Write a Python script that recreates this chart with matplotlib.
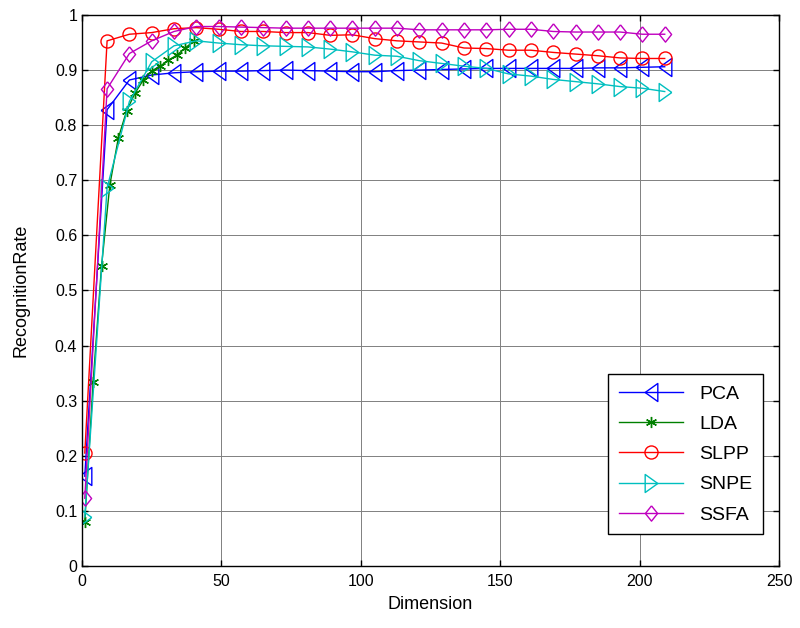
import matplotlib
matplotlib.use('Agg')
import matplotlib.pyplot as plt

plt.rcParams['font.family'] = ['Liberation Sans', 'DejaVu Sans']

# dimensions used by most methods (1:8:209) and by LDA (1:3:40)
dims = list(range(1, 210, 8))
dims_lda = list(range(1, 41, 3))

pca = [0.163, 0.828, 0.882, 0.891, 0.895, 0.897, 0.898, 0.898, 0.899, 0.900, 0.899, 0.898,
       0.897, 0.897, 0.899, 0.900, 0.901, 0.902, 0.903, 0.903, 0.903, 0.903, 0.903, 0.904,
       0.904, 0.905, 0.906]
lda = [0.080, 0.334, 0.544, 0.692, 0.776, 0.826, 0.858, 0.882, 0.898, 0.907, 0.918, 0.927,
       0.940, 0.952]
slpp = [0.205, 0.953, 0.965, 0.968, 0.975, 0.977, 0.974, 0.970, 0.970, 0.968, 0.968, 0.963,
        0.964, 0.957, 0.953, 0.951, 0.949, 0.940, 0.939, 0.936, 0.936, 0.932, 0.929, 0.926,
        0.922, 0.921, 0.921]
snpe = [0.089, 0.686, 0.843, 0.915, 0.944, 0.953, 0.949, 0.946, 0.944, 0.943, 0.942, 0.938,
        0.933, 0.927, 0.925, 0.917, 0.912, 0.907, 0.903, 0.893, 0.889, 0.883, 0.879, 0.875,
        0.870, 0.867, 0.861]
ssfa = [0.123, 0.866, 0.930, 0.953, 0.970, 0.979, 0.979, 0.978, 0.977, 0.976, 0.976, 0.976,
        0.976, 0.976, 0.976, 0.973, 0.973, 0.973, 0.973, 0.974, 0.974, 0.970, 0.969, 0.969,
        0.969, 0.965, 0.965]

# MATLAB-like taller triangles and diamonds
tri_left = [(-0.7, 0), (0.7, -1), (0.7, 1), (-0.7, 0)]
tri_right = [(0.7, 0), (-0.7, -1), (-0.7, 1), (0.7, 0)]
diamond = [(0, 1), (0.8, 0), (0, -1), (-0.8, 0), (0, 1)]

fig = plt.figure(figsize=(8, 6.28), dpi=100)
ax = fig.add_axes([0.1025, 0.0987, 0.8713, 0.8775])

ax.plot(dims, pca, '-', color=(0, 0, 1), lw=1, marker=tri_left, ms=13, mfc='none', mew=1, label='PCA')
ax.plot(dims_lda, lda, '-', color=(0, 0.5, 0), lw=1, marker=(6, 2, 0), ms=8, mew=1, label='LDA')
ax.plot(dims, slpp, '-', color=(1, 0, 0), lw=1, marker='o', ms=9.4, mfc='none', mew=1, label='SLPP')
ax.plot(dims, snpe, '-', color=(0, 0.75, 0.75), lw=1, marker=tri_right, ms=13, mfc='none', mew=1, label='SNPE')
ax.plot(dims, ssfa, '-', color=(0.75, 0, 0.75), lw=1, marker=diamond, ms=11, mfc='none', mew=1, label='SSFA')

ax.set_xlim(0, 250)
ax.set_ylim(0, 1)
ax.set_xticks(range(0, 251, 50))
ax.set_yticks([i / 10 for i in range(11)])
ax.set_yticklabels(['0', '0.1', '0.2', '0.3', '0.4', '0.5', '0.6', '0.7', '0.8', '0.9', '1'])
ax.tick_params(direction='in', top=True, right=True, length=4, width=1, labelsize=11.5)
ax.tick_params(axis='x', pad=6)
for s in ax.spines.values():
    s.set_linewidth(1)
ax.grid(True, color='0.5', lw=0.7, ls='-')
ax.set_axisbelow(True)

ax.set_xlabel('Dimension', fontsize=13, labelpad=5)
ax.set_ylabel('RecognitionRate', fontsize=13, labelpad=18)

leg = ax.legend(loc='lower right', bbox_to_anchor=(0.9905, 0.04), fontsize=14, fancybox=False,
                framealpha=1, edgecolor='black', handlelength=3.3, borderpad=0.55, labelspacing=0.65)
leg.get_frame().set_linewidth(1)

fig.savefig('out.png', dpi=100)
